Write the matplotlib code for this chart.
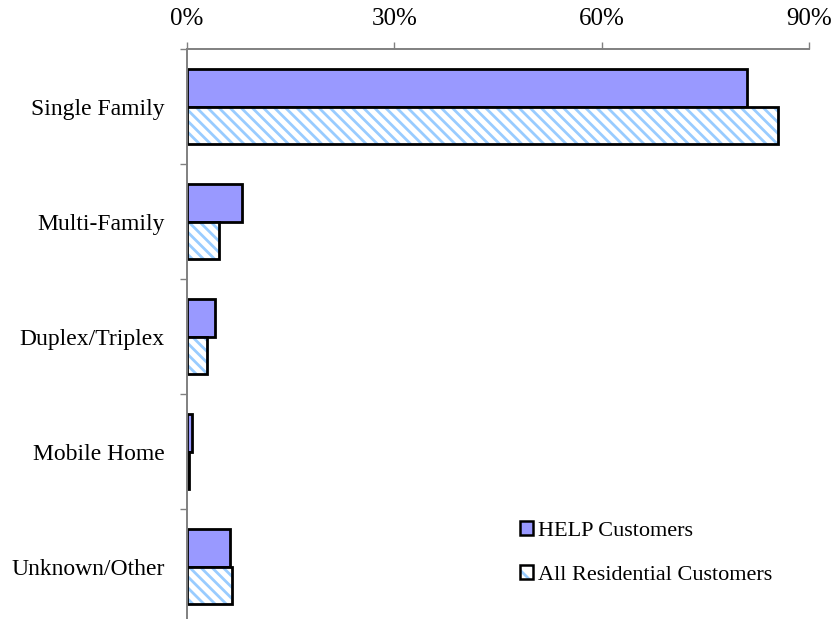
import numpy as np
import matplotlib
matplotlib.use("Agg")
import matplotlib.pyplot as plt
from matplotlib.patches import Patch

categories = ["Single Family", "Multi-Family", "Duplex/Triplex", "Mobile Home", "Unknown/Other"]
help_pct = [81.1, 7.9, 4.0, 0.7, 6.2]
all_pct = [85.5, 4.6, 2.9, 0.3, 6.5]
xticks = [0, 30, 60, 90]
series_names = ["HELP Customers", "All Residential Customers"]

plt.rcParams["font.family"] = ["Liberation Serif", "DejaVu Serif"]
plt.rcParams["hatch.linewidth"] = 2.0

help_col = "#9999FF"
hatch_col = "#99CCFF"
axis_col = "#808080"

fig = plt.figure(figsize=(8.35, 6.19), dpi=100)
ax = fig.add_axes([187 / 835, 1 - 624 / 619, 622 / 835, 575 / 619])

y = np.arange(len(categories))
h = 0.33
ax.barh(y - h / 2, help_pct, height=h, color=help_col, edgecolor="black", linewidth=2.0)
# hatch drawn first in light blue, then black outline on top
ax.barh(y + h / 2, all_pct, height=h, color="white", edgecolor=hatch_col, linewidth=0, hatch="\\\\\\")
ax.barh(y + h / 2, all_pct, height=h, fill=False, edgecolor="black", linewidth=2.0)

ax.set_xlim(0, 90)
ax.set_ylim(len(categories) - 0.5, -0.5)
ax.set_xticks(xticks)
ax.set_xticklabels([f"{t}%" for t in xticks])
ax.xaxis.tick_top()
ax.tick_params(axis="x", direction="out", length=5, width=1, color=axis_col, labelsize=18, pad=9)

ax.set_yticks(y)
ax.set_yticklabels(categories)
ax.set_yticks(np.arange(len(categories) + 1) - 0.5, minor=True)
ax.tick_params(axis="y", which="major", length=0, labelsize=17, pad=16)
ax.tick_params(axis="y", which="minor", direction="out", length=5, width=1, color=axis_col)

for s in ["right", "bottom"]:
    ax.spines[s].set_visible(False)
for s in ["left", "top"]:
    ax.spines[s].set_color(axis_col)
    ax.spines[s].set_linewidth(1.4)

handles = [
    Patch(facecolor=help_col, edgecolor="black", linewidth=1.8),
    (Patch(facecolor="white", edgecolor=hatch_col, linewidth=0, hatch="\\\\"),
     Patch(fill=False, edgecolor="black", linewidth=1.8)),
]
fig.legend(handles, series_names, loc="upper left", bbox_to_anchor=(520 / 835, 1 - 521 / 619),
           frameon=False, fontsize=16, handlelength=0.6, handleheight=0.6,
           handletextpad=0.2, labelspacing=1.1, borderaxespad=0, borderpad=0)

fig.savefig("out.png", dpi=100)
